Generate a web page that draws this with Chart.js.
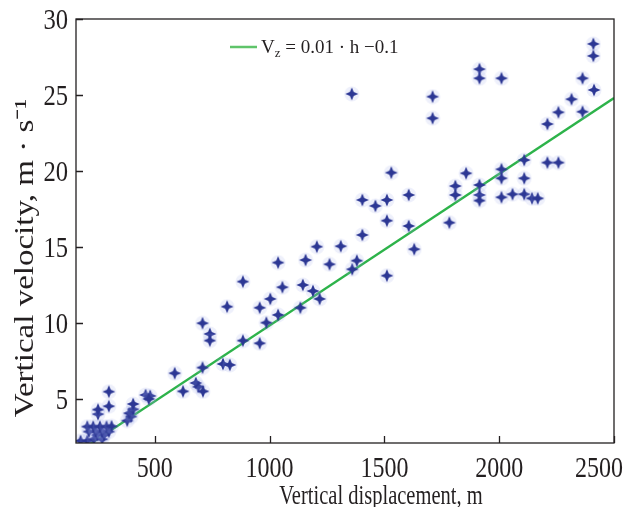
<!DOCTYPE html>
<html>
<head>
<meta charset="utf-8">
<script src="https://cdn.jsdelivr.net/npm/chart.js@4"></script>
<style>
  html, body { margin: 0; padding: 0; background: #fff; }
</style>
</head>
<body>
<canvas id="chart" width="626" height="507"></canvas>
<script>
// Vertical displacement (m) and vertical velocity (m/s)
const displacement = [
  177, 206, 235, 271, 250, 279, 213, 243, 271, 300,
  206, 232, 261, 290, 312, 380, 397, 389, 406, 406,
  253, 253, 300, 300, 460, 480, 474, 587, 623, 679,
  690, 710, 708, 708, 740, 740, 797, 827, 815, 884,
  884, 957, 957, 986, 1003, 1037, 1037, 1056, 1134, 1145,
  1157, 1189, 1206, 1218, 1261, 1310, 1360, 1380, 1358, 1404,
  1404, 1461, 1511, 1511, 1511, 1530, 1606, 1606, 1630, 1710,
  1710, 1783, 1809, 1809, 1856, 1914, 1914, 1914, 1914, 1914,
  2010, 2010, 2010, 2010, 2058, 2109, 2109, 2109, 2143, 2168,
  2210, 2210, 2258, 2258, 2315, 2363, 2363, 2410, 2410, 2413
];
const velocity = [
  2.24, 2.24, 2.35, 2.35, 2.63, 2.63, 2.85, 2.85, 2.85, 2.85,
  3.18, 3.18, 3.18, 3.18, 3.2, 3.57, 3.84, 4.06, 4.32, 4.67,
  4.0, 4.3, 4.52, 5.48, 5.26, 5.2, 5.0, 6.69, 5.5, 6.05,
  5.8, 5.5, 7.06, 9.98, 9.28, 8.84, 7.3, 7.24, 11.07, 12.72,
  8.84, 8.66, 11.0, 10.02, 11.58, 13.97, 10.53, 12.35, 11.0, 12.5,
  14.14, 12.1, 15.02, 11.58, 13.86, 15.05, 13.53, 14.1, 25.07, 18.09,
  15.79, 17.7, 18.09, 16.73, 13.11, 19.89, 18.42, 16.38, 14.85, 24.89,
  23.47, 16.6, 19.01, 18.42, 19.85, 26.7, 26.1, 19.08, 18.42, 18.05,
  26.1, 20.11, 19.52, 18.27, 18.47, 20.72, 19.52, 18.47, 18.2, 18.2,
  23.09, 20.55, 23.86, 20.55, 24.72, 26.1, 23.9, 28.36, 27.57, 25.33
];

// regression line, two end points
const fitDisplacement = [200, 2500];
const fitVelocity = [1.85, 24.8];

const xTicks = [500, 1000, 1500, 2000, 2500];
const yTicks = [5, 10, 15, 20, 25, 30];

const serif = "'Liberation Serif', 'Times New Roman', serif";
const ink = "#231f20";
const green = "#2db34a";

// four-pointed star marker with a faint halo
function makeStar() {
  const c = document.createElement("canvas");
  c.width = 16;
  c.height = 16;
  const g = c.getContext("2d");
  g.fillStyle = "rgba(150,160,230,0.16)";
  g.beginPath();
  g.arc(8, 8, 7.5, 0, Math.PI * 2);
  g.fill();
  g.fillStyle = "#2c3794";
  g.beginPath();
  g.moveTo(8, 1.5);
  g.lineTo(9.9, 6.1);
  g.lineTo(14.5, 8);
  g.lineTo(9.9, 9.9);
  g.lineTo(8, 14.5);
  g.lineTo(6.1, 9.9);
  g.lineTo(1.5, 8);
  g.lineTo(6.1, 6.1);
  g.closePath();
  g.fill();
  return c;
}

// the printed figure is squeezed sideways, so text is drawn narrowed
function label(ctx, s, x, y, size, sx, align, rotate) {
  ctx.save();
  ctx.translate(x, y);
  if (rotate) {
    ctx.rotate(-Math.PI / 2);
    ctx.scale(1, sx);
  } else {
    ctx.scale(sx, 1);
  }
  ctx.font = size + "px " + serif;
  ctx.textAlign = align;
  ctx.textBaseline = "alphabetic";
  ctx.fillText(s, 0, 0);
  ctx.restore();
}

const frame = {
  id: "frame",
  afterDraw(chart) {
    const ctx = chart.ctx;
    const a = chart.chartArea;
    const xs = chart.scales.x;
    const ys = chart.scales.y;
    ctx.save();
    ctx.strokeStyle = ink;
    ctx.lineWidth = 1.3;
    ctx.strokeRect(a.left, a.top, a.right - a.left, a.bottom - a.top);
    // inward tick marks
    ctx.beginPath();
    xTicks.forEach((v) => {
      const px = Math.round(xs.getPixelForValue(v)) + 0.5;
      ctx.moveTo(px, a.bottom);
      ctx.lineTo(px, a.bottom - 7);
    });
    yTicks.forEach((v) => {
      const py = Math.round(ys.getPixelForValue(v)) + 0.5;
      ctx.moveTo(a.left, py);
      ctx.lineTo(a.left + 7, py);
    });
    ctx.stroke();

    ctx.fillStyle = ink;
    // tick labels
    xTicks.forEach((v, i) => {
      const px = xs.getPixelForValue(v);
      if (i === xTicks.length - 1) {
        label(ctx, String(v), 623, 477, 30, 0.8, "right");
      } else {
        label(ctx, String(v), px, 477, 30, 0.8, "center");
      }
    });
    yTicks.forEach((v) => {
      label(ctx, String(v), 68, ys.getPixelForValue(v) + 10, 30, 0.82, "right");
    });

    // axis titles
    label(ctx, "Vertical displacement, m", 381, 504, 27, 0.76, "center");
    label(ctx, "Vertical velocity, m \u00b7 s\u207b\u00b9", 33, 258, 33, 0.8, "center", true);

    // legend: line sample and V_z = 0.01 · h −0.1
    const lx = a.left + 154;
    const ly = a.top + 28;
    ctx.strokeStyle = "#5fc46a";
    ctx.lineWidth = 2.5;
    ctx.beginPath();
    ctx.moveTo(lx, ly);
    ctx.lineTo(lx + 27, ly);
    ctx.stroke();
    ctx.textAlign = "left";
    ctx.textBaseline = "alphabetic";
    ctx.font = "19px " + serif;
    let tx = lx + 31;
    ctx.fillText("V", tx, ly + 6);
    tx += ctx.measureText("V").width;
    ctx.font = "13px " + serif;
    ctx.fillText("z", tx, ly + 10);
    tx += ctx.measureText("z").width;
    ctx.font = "19px " + serif;
    ctx.fillText(" = 0.01 \u00b7 h \u22120.1", tx, ly + 6);
    ctx.restore();
  },
};

new Chart(document.getElementById("chart"), {
  type: "scatter",
  data: {
    datasets: [
      {
        label: "V_z = 0.01 · h −0.1",
        data: fitDisplacement.map((h, i) => ({ x: h, y: fitVelocity[i] })),
        showLine: true,
        borderColor: green,
        borderWidth: 2.3,
        pointRadius: 0,
        order: 2,
      },
      {
        label: "Measurements",
        data: displacement.map((h, i) => ({ x: h, y: velocity[i] })),
        pointStyle: makeStar(),
        order: 1,
      },
    ],
  },
  options: {
    responsive: false,
    animation: false,
    layout: { padding: { left: 0, top: 19, right: 12, bottom: 0 } },
    plugins: {
      legend: { display: false },
      tooltip: { enabled: false },
    },
    scales: {
      x: {
        type: "linear",
        min: 157,
        max: 2500,
        afterBuildTicks: (s) => { s.ticks = xTicks.map((v) => ({ value: v })); },
        afterFit: (s) => {
          s.height = 64;
          s.paddingLeft = 0;
          s.paddingRight = 0;
        },
        grid: { display: false },
        border: { display: false },
        ticks: { display: false },
      },
      y: {
        type: "linear",
        min: 2.1,
        max: 30,
        afterBuildTicks: (s) => { s.ticks = yTicks.map((v) => ({ value: v })); },
        afterFit: (s) => {
          s.width = 76;
          s.paddingTop = 0;
          s.paddingBottom = 0;
        },
        grid: { display: false },
        border: { display: false },
        ticks: { display: false },
      },
    },
  },
  plugins: [frame],
});
</script>
</body>
</html>
